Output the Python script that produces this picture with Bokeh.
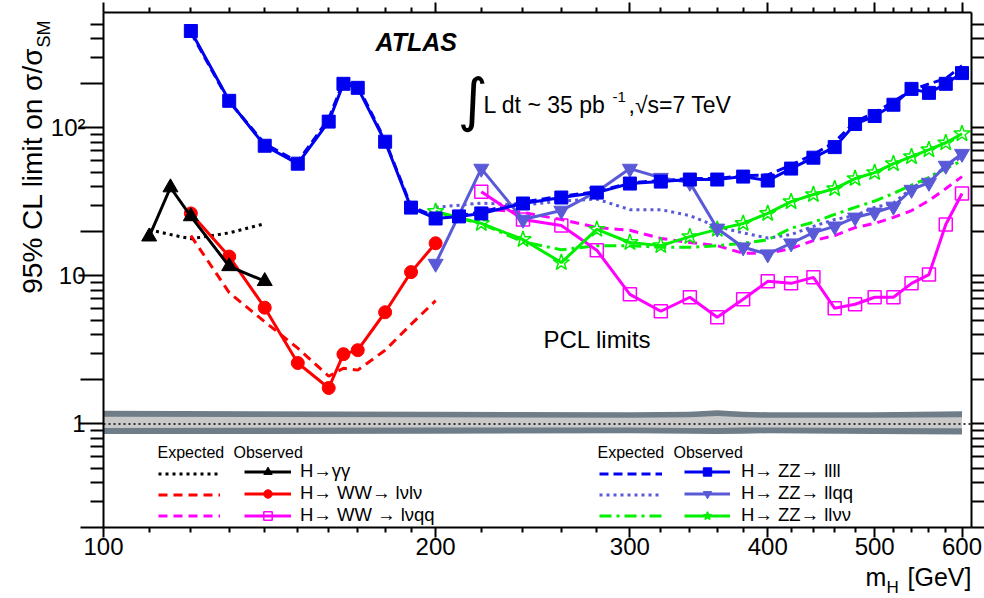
import math
from bokeh.plotting import figure
from bokeh.models import FixedTicker, LogAxis, Label, Legend, LegendItem, Range1d, LogScale
from bokeh.embed import file_html
from bokeh.resources import INLINE

# ---------------- data ----------------
gg_mass = [110, 115, 120, 130, 140]
gg_obs = [18.4, 39.5, 25.2, 11.6, 9.2]
gg_exp = [20.5, 19.0, 17.8, 19.5, 22.5]

wwlvlv_mass = [120, 130, 140, 150, 160, 165, 170, 180, 190, 200]
wwlvlv_obs = [26.4, 13.5, 6.1, 2.58, 1.75, 2.96, 3.15, 5.68, 10.6, 16.6]
wwlvlv_exp = [18.7, 7.7, 4.9, 3.25, 2.1, 2.38, 2.31, 3.15, 4.7, 6.8]

wwlvqq_mass = [220, 240, 260, 280, 300, 320, 340, 360, 380, 400,
               420, 440, 460, 480, 500, 520, 540, 560, 580, 600]
wwlvqq_obs = [37, 24, 21.9, 14.9, 7.5, 5.77, 7.17, 5.25, 6.95, 9.18,
              8.9, 9.77, 6.04, 6.43, 7.17, 7.17, 8.9, 10.2, 22.2, 36]
wwlvqq_exp = [28.5, 26.8, 24, 21.2, 20.3, 17.9, 16.8, 16, 14.2, 14.2,
              15.3, 17.3, 18.7, 21.2, 22.6, 24.8, 27.6, 32.2, 38.8, 46.8]

zz4l_mass = [120, 130, 140, 150, 160, 165, 170, 180, 190, 200, 210, 220,
             240, 260, 280, 300, 320, 340, 360, 380, 400, 420, 440, 460,
             480, 500, 520, 540, 560, 580, 600]
zz4l_obs = [450, 152, 75.6, 57.2, 110, 198, 186, 80.5, 28.9, 24.4, 25.2, 26.4,
            30.8, 33.8, 36.5, 42, 43.3, 44.7, 44.7, 46.8, 44, 53, 62.8, 74,
            106, 120, 143, 183, 172, 198, 234]
zz4l_exp = [440, 150, 78, 59, 115, 205, 192, 82, 29.5, 25, 25.5, 27,
            31.5, 34.5, 37, 42.5, 44, 45.5, 45.5, 47.5, 48, 56, 66, 80,
            110, 126, 150, 180, 198, 215, 262]

zz_mass = [200, 220, 240, 260, 280, 300, 320, 340, 360, 380, 400,
           420, 440, 460, 480, 500, 520, 540, 560, 580, 600]
zzllqq_obs = [12.1, 53, 24, 27.6, 37, 53, 46, 42.6, 20.9, 15.6, 14,
              16.6, 19.6, 21.6, 24.8, 26.8, 29.4, 38.2, 42.6, 55.5, 66.8]
zzllqq_exp = [29, 31, 30, 32, 33, 28, 28, 25.5, 21.5, 19.5, 18,
              19, 21.6, 24, 25.5, 29, 31, 39, 46, 54, 64]
zzllvv_obs = [27.2, 22.6, 17.6, 12.3, 20.6, 16.8, 16.0, 18.4, 20.6, 22.6, 26.4,
              31.7, 35.4, 38.8, 45.4, 49.8, 57.2, 63.8, 71.1, 79.2, 91.1]
zzllvv_exp = [27, 22.5, 17, 15, 16, 16, 15.6, 15.6, 16, 16.6, 17.5,
              21, 23, 26, 29, 32, 36, 41, 46, 53, 60]

band_mass = [100, 200, 300, 340, 360, 380, 400, 500, 600]
band_outer_hi = [1.23, 1.21, 1.20, 1.21, 1.24, 1.21, 1.20, 1.20, 1.22]
band_outer_lo = [0.855, 0.86, 0.865, 0.86, 0.855, 0.86, 0.865, 0.855, 0.85]
band_inner_hi = [1.12, 1.11, 1.10, 1.11, 1.13, 1.11, 1.10, 1.10, 1.11]
band_inner_lo = [0.94, 0.945, 0.945, 0.94, 0.94, 0.945, 0.945, 0.94, 0.935]

x_major = [100, 200, 300, 400, 500, 600]
x_minor = [110, 120, 130, 140, 150, 160, 170, 180, 190,
           220, 240, 260, 280, 320, 340, 360, 380, 420, 440, 460, 480,
           520, 540, 560, 580]
y_major = [1, 10, 100]
y_mid = [0.2, 2, 20, 200]
y_minor = [0.3, 0.4, 0.5, 0.6, 0.7, 0.8, 0.9, 3, 4, 5, 6, 7, 8, 9,
           30, 40, 50, 60, 70, 80, 90, 300, 400, 500]
y_labels = {1: "1", 10: "10", 100: "10\u00b2"}

# ---------------- geometry ----------------
XMIN, XMAX = 100, 612
YMIN, YMAX = 0.2, 600
W, H = 984, 598
FL, FR, FT, FB = 103, 971, 12, 527   # axes box in canvas pixels
FONT = "Liberation Sans"


def fx(px):
    return 10 ** (math.log10(XMIN) + (px - FL) / (FR - FL) * (math.log10(XMAX) - math.log10(XMIN)))


def fy(py):
    return 10 ** (math.log10(YMAX) - (py - FT) / (FB - FT) * (math.log10(YMAX) - math.log10(YMIN)))


p = figure(width=W, height=H, x_axis_type=None, y_axis_type=None,
           x_range=Range1d(fx(0), fx(W)), y_range=Range1d(fy(H), fy(0)),
           output_backend="svg", toolbar_location=None, tools="",
           min_border_left=0, min_border_right=0, min_border_top=0,
           min_border_bottom=0)
p.x_scale = LogScale()
p.y_scale = LogScale()
p.outline_line_color = None
p.background_fill_color = "white"
p.border_fill_color = "white"


def make_axis(place, loc, bounds, major, minor=(), tick=0, mtick=0,
              labels=None, line=False):
    ax = LogAxis(fixed_location=loc)
    ax.ticker = FixedTicker(ticks=major, minor_ticks=list(minor))
    ax.bounds = bounds
    # with a fixed location the "out" side of the ticks points into the frame
    ax.major_tick_in = 0
    ax.major_tick_out = tick
    ax.minor_tick_in = 0
    ax.minor_tick_out = mtick
    ax.major_tick_line_width = 2
    ax.minor_tick_line_width = 2
    ax.major_tick_line_color = "black" if tick else None
    ax.minor_tick_line_color = "black" if mtick else None
    if line:
        ax.axis_line_width = 2
        ax.axis_line_color = "black"
    else:
        ax.axis_line_color = None
    if labels is None:
        ax.major_label_text_font_size = "0px"
        ax.major_label_text_alpha = 0
        ax.major_label_standoff = 0
    else:
        if isinstance(labels, dict):
            ax.major_label_overrides = labels
        ax.major_label_text_font = FONT
        ax.major_label_text_font_size = "24px"
        ax.major_label_text_color = "black"
        ax.major_label_standoff = 10
    p.add_layout(ax, place)


# frame lines + tick labels
make_axis("below", YMIN, (XMIN, XMAX), x_major, labels=True, line=True)
make_axis("left", XMIN, (YMIN, YMAX), y_major, line=True)
make_axis("left", fx(FL - 8), (YMIN, YMAX), y_major, labels=y_labels)
make_axis("above", YMAX, (XMIN, XMAX), x_major, line=True)
make_axis("right", XMAX, (YMIN, YMAX), y_major, line=True)
# inward ticks on all four sides
make_axis("below", YMIN, (XMIN, XMAX), x_major, x_minor, 10, 5)
make_axis("above", YMAX, (XMIN, XMAX), x_major, x_minor, 10, 5)
make_axis("left", XMIN, (YMIN, YMAX), y_major, y_minor, 25, 13)
make_axis("left", XMIN, (YMIN, YMAX), y_mid, (), 23, 0)
make_axis("right", XMAX, (YMIN, YMAX), y_major, y_minor, 25, 13)
make_axis("right", XMAX, (YMIN, YMAX), y_mid, (), 23, 0)

# ---------------- band around 1 ----------------
p.varea(x=band_mass, y1=band_outer_lo, y2=band_outer_hi, fill_color="#6f7d89")
p.varea(x=band_mass, y1=band_inner_lo, y2=band_inner_hi, fill_color="#c9c9c9")
p.line([XMIN, XMAX], [1, 1], line_color="black", line_width=1.5, line_dash="2 3")

# ---------------- series ----------------
BLUE = "#0000f0"
SLATE = "#5a5ad8"
GREEN = "#00f000"
MAG = "#ff00ff"
RED = "#ff0000"

# expected
e_gg = p.line(gg_mass, gg_exp, line_color="black", line_width=3, line_dash="3 4")
e_lvlv = p.line(wwlvlv_mass, wwlvlv_exp, line_color=RED, line_width=3, line_dash="9 6")
e_lvqq = p.line(wwlvqq_mass, wwlvqq_exp, line_color=MAG, line_width=3, line_dash="9 6")
e_4l = p.line(zz4l_mass, zz4l_exp, line_color=BLUE, line_width=3, line_dash="9 5")
e_llqq = p.line(zz_mass, zzllqq_exp, line_color=SLATE, line_width=3, line_dash="3 4")
e_llvv = p.line(zz_mass, zzllvv_exp, line_color=GREEN, line_width=3, line_dash="12 5 3 5")

# observed
o_lvqq_l = p.line(wwlvqq_mass, wwlvqq_obs, line_color=MAG, line_width=3)
o_lvqq_m = p.scatter(wwlvqq_mass, wwlvqq_obs, marker="square", size=13,
                     fill_alpha=0, line_color=MAG, line_width=1.5)
o_llvv_l = p.line(zz_mass, zzllvv_obs, line_color=GREEN, line_width=3)
o_llvv_m = p.scatter(zz_mass, zzllvv_obs, marker="star", size=17,
                     fill_alpha=0, line_color=GREEN, line_width=1.5)
o_llqq_l = p.line(zz_mass, zzllqq_obs, line_color=SLATE, line_width=3)
o_llqq_m = p.scatter(zz_mass, zzllqq_obs, marker="inverted_triangle", size=15,
                     fill_color=SLATE, line_color=SLATE)
o_4l_l = p.line(zz4l_mass, zz4l_obs, line_color=BLUE, line_width=3)
o_4l_m = p.scatter(zz4l_mass, zz4l_obs, marker="square", size=13,
                   fill_color=BLUE, line_color=BLUE)
o_lvlv_l = p.line(wwlvlv_mass, wwlvlv_obs, line_color=RED, line_width=3)
o_lvlv_m = p.scatter(wwlvlv_mass, wwlvlv_obs, marker="circle", size=13,
                     fill_color=RED, line_color=RED)
o_gg_l = p.line(gg_mass, gg_obs, line_color="black", line_width=3)
o_gg_m = p.scatter(gg_mass, gg_obs, marker="triangle", size=15,
                   fill_color="black", line_color="black")

# ---------------- legends ----------------


def make_legend(items, left_px, bottom_px, gw, standoff, labelled):
    leg = Legend(items=items, location=(left_px, H - bottom_px),
                 orientation="vertical",
                 glyph_width=gw, glyph_height=21, label_height=21,
                 label_width=0, label_standoff=standoff, spacing=0,
                 padding=0, margin=0, background_fill_alpha=0,
                 border_line_alpha=0, label_text_font=FONT,
                 label_text_font_size="18.5px" if labelled else "1px",
                 label_text_color="black")
    p.add_layout(leg)


make_legend([LegendItem(label=" ", renderers=[e_gg]),
             LegendItem(label=" ", renderers=[e_lvlv]),
             LegendItem(label=" ", renderers=[e_lvqq])],
            158, 526, 62, 0, False)
make_legend([LegendItem(label="H\u2192\u03b3\u03b3", renderers=[o_gg_l, o_gg_m]),
             LegendItem(label="H\u2192 WW\u2192 l\u03bdl\u03bd", renderers=[o_lvlv_l, o_lvlv_m]),
             LegendItem(label="H\u2192 WW \u2192 l\u03bdqq", renderers=[o_lvqq_l, o_lvqq_m])],
            244, 526, 47, 9, True)
make_legend([LegendItem(label=" ", renderers=[e_4l]),
             LegendItem(label=" ", renderers=[e_llqq]),
             LegendItem(label=" ", renderers=[e_llvv])],
            599, 526, 63, 0, False)
make_legend([LegendItem(label="H\u2192 ZZ\u2192 llll", renderers=[o_4l_l, o_4l_m]),
             LegendItem(label="H\u2192 ZZ\u2192 llqq", renderers=[o_llqq_l, o_llqq_m]),
             LegendItem(label="H\u2192 ZZ\u2192 ll\u03bd\u03bd", renderers=[o_llvv_l, o_llvv_m])],
            684, 526, 46, 11, True)

# ---------------- texts ----------------


def label(px, py, text, size, **kw):
    p.add_layout(Label(x=fx(px), y=fy(py), text=text, text_font=kw.pop("font", FONT),
                       text_font_size=size, text_color="black", **kw))


label(157, 460, "Expected", "16px")
label(233, 460, "Observed", "16px")
label(597, 460, "Expected", "16px")
label(673, 460, "Observed", "16px")

label(375, 55, "ATLAS", "25px", text_font_style="bold italic")
label(457, 99, "\u222b", "58px", text_baseline="middle", font="DejaVu Sans")
label(483, 117, "L dt ~ 35 pb", "23px")
label(612, 101, "-1", "15px")
label(628, 117, ",\u221as=7 TeV", "23px")
label(543, 352, "PCL limits", "24px")

# axis titles
label(47, 47, "95% CL limit on \u03c3/\u03c3", "28px", angle=math.pi / 2,
      text_align="right")
label(53, 47, "SM", "18px", angle=math.pi / 2, text_align="left")
label(865, 590, "m", "25px")
label(886, 596, "H", "17px")
label(907, 590, "[GeV]", "25px")

open("out.html", "w").write(file_html(p, INLINE))
